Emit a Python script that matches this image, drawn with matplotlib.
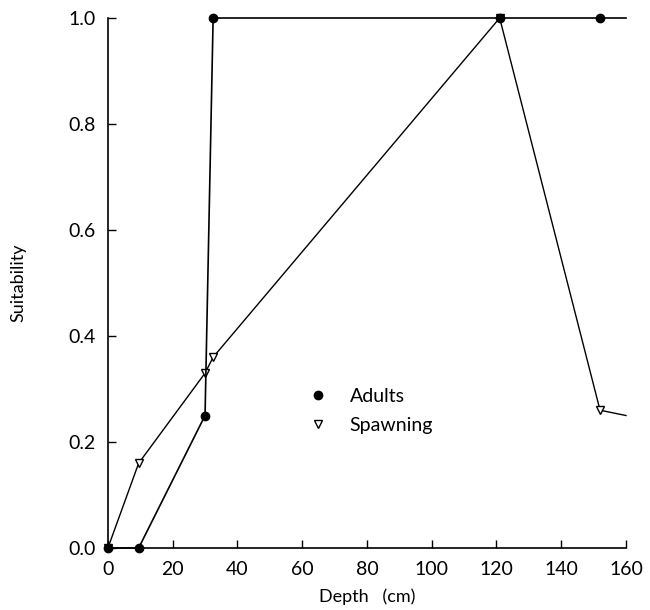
import matplotlib
matplotlib.use("Agg")
import matplotlib.pyplot as plt
from matplotlib.lines import Line2D

plt.rcParams['font.family'] = ['Lato', 'DejaVu Sans']

# suitability curves vs. depth
adult_depth = [0, 9.5, 30, 32.5, 121, 152]
adult_suit = [0.0, 0.0, 0.25, 1.0, 1.0, 1.0]
adult_tail = [152, 160]
adult_tail_suit = [1.0, 1.0]

spawn_depth = [0, 9.5, 30, 32.5, 121, 152]
spawn_suit = [0.0, 0.16, 0.33, 0.36, 1.0, 0.26]
spawn_tail = [152, 160]
spawn_tail_suit = [0.26, 0.25]

x_ticks = [0, 20, 40, 60, 80, 100, 120, 140, 160]
y_ticks = [0.0, 0.2, 0.4, 0.6, 0.8, 1.0]

fig = plt.figure(figsize=(6.5, 6.1), dpi=100)
ax = fig.add_axes([0.166, 0.1016, 0.797, 0.8689])

ax.plot(spawn_depth, spawn_suit, color='black', lw=1.0, marker='v',
        markersize=6, markerfacecolor='white', markeredgewidth=1.0,
        clip_on=False, zorder=3)
ax.plot(spawn_tail, spawn_tail_suit, color='black', lw=1.0, clip_on=False)
ax.plot(adult_depth, adult_suit, color='black', lw=1.2, marker='o',
        markersize=6, clip_on=False, zorder=4)
ax.plot(adult_tail, adult_tail_suit, color='black', lw=1.2, clip_on=False)

ax.set_xlim(0, 160)
ax.set_ylim(0, 1.0)
ax.set_xticks(x_ticks)
ax.set_yticks(y_ticks)
ax.set_yticklabels([f"{v:.1f}" for v in y_ticks])
ax.tick_params(direction='in', length=6, width=1, labelsize=14, pad=9)
for side in ('top', 'right'):
    ax.spines[side].set_visible(False)
for side in ('left', 'bottom'):
    ax.spines[side].set_linewidth(1.2)

ax.set_xlabel("Depth   (cm)", fontsize=13, labelpad=8)
ax.set_ylabel("Suitability", fontsize=13, labelpad=30)

handles = [
    Line2D([], [], color='black', marker='o', linestyle='none', markersize=6),
    Line2D([], [], color='black', marker='v', linestyle='none', markersize=6,
           markerfacecolor='white'),
]
ax.legend(handles, ["Adults", "Spawning"], frameon=False, fontsize=14,
          loc='upper left', bbox_to_anchor=(0.335, 0.335), handletextpad=0.6,
          labelspacing=0.6)

fig.savefig("out.png", dpi=100)
